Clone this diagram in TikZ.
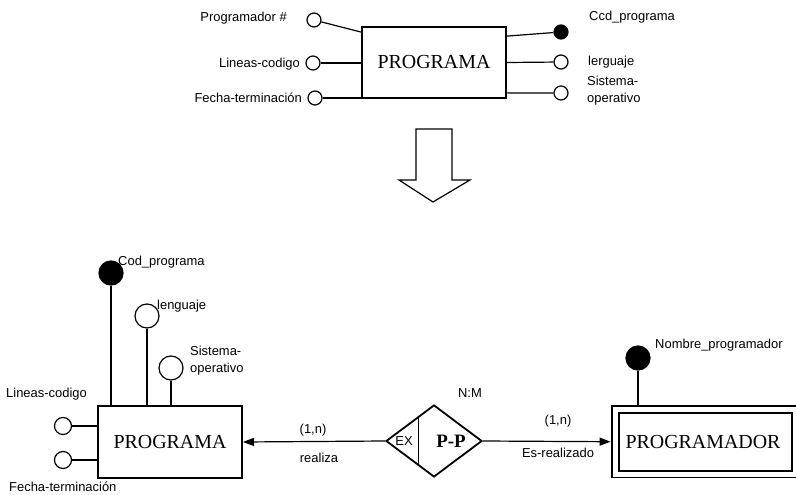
\documentclass[tikz,border=0pt]{standalone}
\usepackage{fontspec}
\setmainfont{Liberation Sans}
\newfontfamily\entfont{Liberation Serif}
\usetikzlibrary{shapes.geometric,arrows.meta,calc}

\begin{document}
\begin{tikzpicture}[x=1bp,y=-1bp,
  lbl/.style={font=\fontsize{13}{17}\selectfont, inner sep=0, align=left},
  attr/.style={circle,draw,line width=1.2bp,fill=white,inner sep=0,minimum size=#1},
  keyattr/.style={circle,draw,line width=1.2bp,fill=black,inner sep=0,minimum size=#1},
  ent/.style={draw,line width=1.8bp,fill=white,inner sep=0,font=\entfont\fontsize{20}{22}\selectfont},
  conn/.style={line width=1.2bp},
  tip/.style={-{Triangle[length=11bp,width=8bp]}},
]
\useasboundingbox (0,0) rectangle (796,495);

% ---------- upper schema: PROGRAMA with its attributes ----------
\node[ent, minimum width=144bp, minimum height=71bp] (top) at (434,62.5) {PROGRAMA};

\node[attr=14bp]    (tnum) at (314,20) {};
\node[attr=14bp]    (tlin) at (313,63) {};
\node[attr=14bp]    (tfec) at (315,98) {};
\node[keyattr=14bp] (tcod) at (561,32) {};
\node[attr=14bp]    (tlen) at (561,62) {};
\node[attr=14bp]    (tsis) at (561,93) {};

\coordinate (tnumend) at ($(top.north west)+(0,6)$);
\coordinate (tcodend) at ($(top.north east)+(0,10)$);
\coordinate (tsisend) at ($(top.south east)+(0,-6)$);
\draw[conn] (tnum) -- (tnumend);
\draw[conn] (tlin) -- (tlin -| top.west);
\draw[conn] (tfec) -- (tfec -| top.west);
\draw[conn] (tcodend) -- (tcod);
\draw[conn] (top.east) -- (tlen);
\draw[conn] (tsisend) -- (tsis);

\node[lbl, anchor=east] (ltnum) at (287,18) {Programador \#};
\node[lbl, anchor=east] (ltlin) at (300,64) {Lineas-codigo};
\node[lbl, anchor=east] (ltfec) at (302,98) {Fecha-terminación};
\node[lbl, anchor=west] (ltcod) at (589,17) {Ccd\_programa};
\node[lbl, anchor=west] (ltlen) at (588,62) {lerguaje};
\node[lbl, anchor=west] (ltsis) at (587,91) {Sistema-\\operativo};

% ---------- transformation arrow ----------
\draw[line width=1.2bp, line join=miter]
  (416,129) -- (452,129) -- (452,180) -- (470,180) -- (433,202)
  -- (399,180) -- (416,180) -- cycle;

% ---------- lower schema ----------
\node[ent, minimum width=144bp, minimum height=72bp] (bprog) at (170,442) {PROGRAMA};

\node[keyattr=24bp] (bcod) at (111,273) {};
\node[attr=24bp]    (blen) at (147,316) {};
\node[attr=24bp]    (bsis) at (171,368) {};
\node[attr=17bp]    (blin) at (63,426) {};
\node[attr=17bp]    (bfec) at (63,460) {};

\draw[conn] (bcod) -- (bcod |- bprog.north);
\draw[conn] (blen) -- (blen |- bprog.north);
\draw[conn] (bsis) -- (bsis |- bprog.north);
\draw[conn] (blin) -- (blin -| bprog.west);
\draw[conn] (bfec) -- (bfec -| bprog.west);

\node[lbl, anchor=west] (lbcod) at (118,262) {Cod\_programa};
\node[lbl, anchor=west] (lblen) at (157,306) {lenguaje};
\node[lbl, anchor=west] (lbsis) at (190,361) {Sistema-\\operativo};
\node[lbl, anchor=west] (lblin) at (6,394) {Lineas-codigo};
\node[lbl, anchor=west] (lbfec) at (9,487) {Fecha-terminación};

% relationship P-P
\node[diamond, draw, line width=1.8bp, fill=white, inner sep=0,
      minimum width=96bp, minimum height=72bp] (pp) at (434,441) {};
\draw[conn] ($(pp.north)!0.3125!(pp.west)$) -- ($(pp.south)!0.3125!(pp.west)$);
\node[lbl] (ex) at (404,441) {EX};
\node[font=\entfont\bfseries\fontsize{19}{21}\selectfont, inner sep=0] (pptext) at (451,441) {P-P};
\node[lbl] (card) at (470,393) {N:M};

% entity PROGRAMADOR (double frame)
\node[draw, line width=1.8bp, double, double distance=5bp, inner sep=0,
      minimum width=180bp, minimum height=64.5bp] (pgm) at (705.5,441.75) {};
\node[font=\entfont\fontsize{20}{22}\selectfont, inner sep=0] (pgmtext) at (703,442) {PROGRAMADOR};

\node[keyattr=24bp] (bnom) at (638,358) {};
\draw[conn, shorten >=3.5bp] (bnom) -- (bnom |- pgm.north);
\node[lbl, anchor=west] (lbnom) at (655,345) {Nombre\_programador};

% connectors of the relationship
\draw[conn, tip] (pp.west) -- (bprog.east);
\draw[conn, tip, shorten >=4bp] (pp.east) -- (pgm.west);

\node[lbl] (c1) at (313,430) {(1,n)};
\node[lbl] (r1) at (319,458) {realiza};
\node[lbl] (c2) at (558,421) {(1,n)};
\node[lbl] (r2) at (558,453) {Es-realizado};
\end{tikzpicture}
\end{document}
